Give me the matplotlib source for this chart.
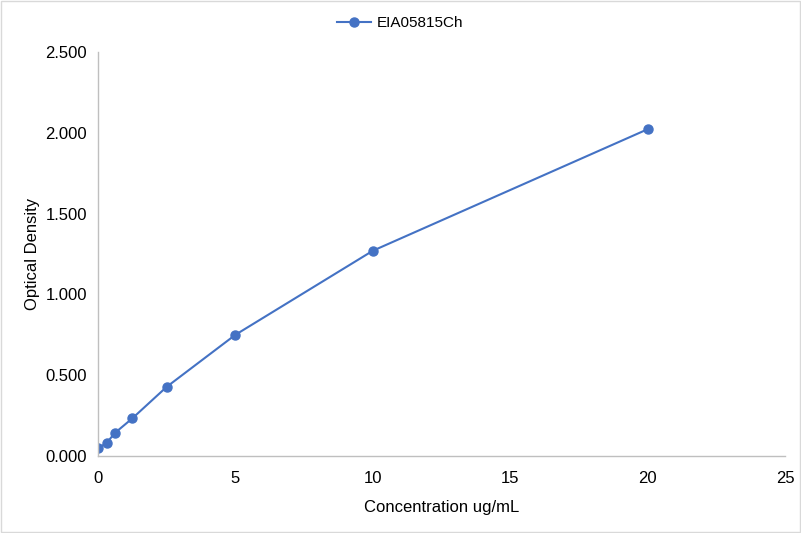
import matplotlib.pyplot as plt
from matplotlib.ticker import FormatStrFormatter

plt.rcParams['font.family'] = ['Liberation Sans', 'DejaVu Sans']

# concentration (ug/mL) and optical density
conc = [0, 0.3125, 0.625, 1.25, 2.5, 5, 10, 20]
od = [0.047, 0.081, 0.144, 0.233, 0.428, 0.750, 1.270, 2.022]
series_name = "EIA05815Ch"


def main():
    fig = plt.figure(figsize=(8.01, 5.33), dpi=100)
    ax = fig.add_axes([98 / 801, 1 - 456 / 533, 687 / 801, 404 / 533])

    ax.plot(conc, od, color='#4472C4', linewidth=1.5, marker='o',
            markersize=6.5, label=series_name)

    ax.set_xlim(0, 25)
    ax.set_ylim(0, 2.5)
    ax.set_xticks([0, 5, 10, 15, 20, 25])
    ax.set_yticks([0, 0.5, 1.0, 1.5, 2.0, 2.5])
    ax.yaxis.set_major_formatter(FormatStrFormatter('%.3f'))

    for s in ['top', 'right']:
        ax.spines[s].set_visible(False)
    for s in ['left', 'bottom']:
        ax.spines[s].set_color('#BFBFBF')
        ax.spines[s].set_linewidth(1)
    ax.tick_params(length=0, labelsize=12, labelcolor='black')
    ax.tick_params(axis='x', pad=11)
    ax.tick_params(axis='y', pad=8)

    ax.set_xlabel("Concentration ug/mL", fontsize=12, labelpad=10)
    ax.set_ylabel("Optical Density", fontsize=12, labelpad=4)

    fig.legend(*ax.get_legend_handles_labels(), loc='center',
               bbox_to_anchor=(0.5, 1 - 23 / 533), frameon=False,
               fontsize=11, handlelength=2.2, handletextpad=0.4)

    # light chart border
    fig.patches.append(plt.Rectangle((0.001, 0.001), 0.998, 0.998,
                                     transform=fig.transFigure, fill=False,
                                     edgecolor='#D9D9D9', linewidth=1))

    fig.savefig("out.png", dpi=100)


if __name__ == '__main__':
    main()
